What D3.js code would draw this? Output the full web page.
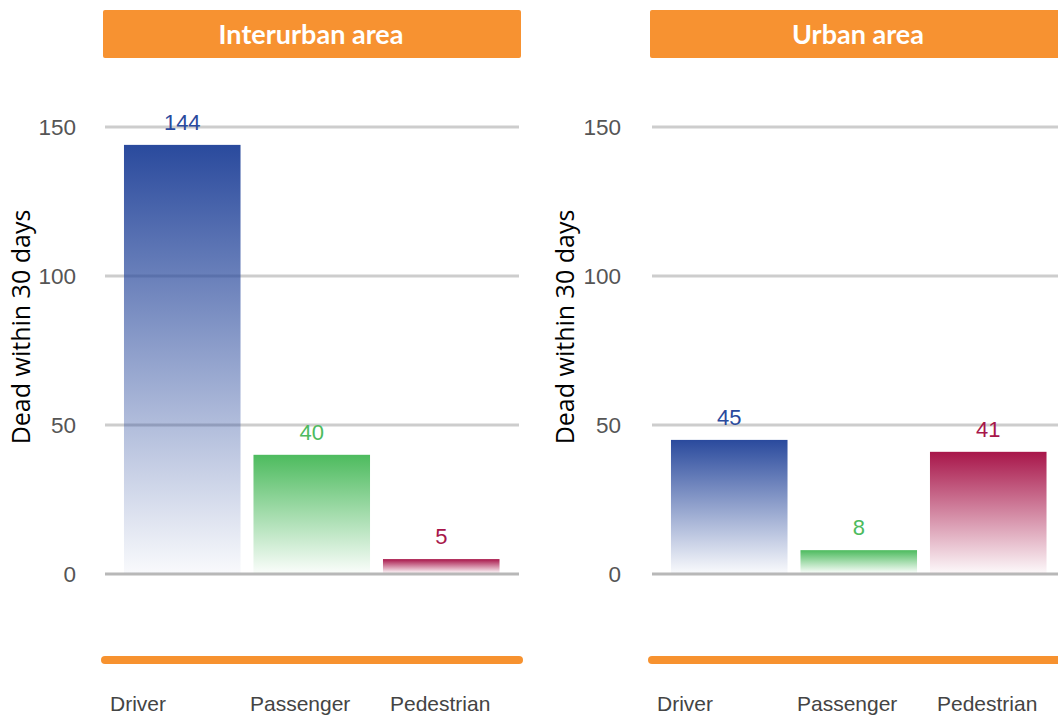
<!DOCTYPE html>
<html>
<head>
<meta charset="utf-8">
<script src="https://cdn.jsdelivr.net/npm/d3@7"></script>
<style>
  body { margin: 0; background: #fff; }
  svg { display: block; }
</style>
</head>
<body>
<svg width="1058" height="715"></svg>
<script>
// categorias y valores (muertos a 30 dias)
var categories = ["Driver", "Passenger", "Pedestrian"];
var interurban = [144, 40, 5];
var urban = [45, 8, 41];
var panelTitles = ["Interurban area", "Urban area"];
var yTicks = [0, 50, 100, 150];
var barColors = ["#2a4a9d", "#4dbb5e", "#a8164a"];

var svg = d3.select("svg");
var defs = svg.append("defs");

barColors.forEach(function(c, i) {
  var gr = defs.append("linearGradient")
    .attr("id", "grad" + i)
    .attr("x1", 0).attr("y1", 0).attr("x2", 0).attr("y2", 1);
  gr.append("stop").attr("offset", "0%").attr("stop-color", c);
  gr.append("stop").attr("offset", "100%").attr("stop-color", c).attr("stop-opacity", 0.03);
});

var y = d3.scaleLinear().domain([0, 150]).range([574, 127]);

function panel(x0, x1, title, values, axisX, titleX) {
  var g = svg.append("g");

  // cabecera naranja
  g.append("rect")
    .attr("x", x0).attr("y", 10)
    .attr("width", x1 - x0).attr("height", 48)
    .attr("rx", 2)
    .attr("fill", "#f79231");
  g.append("text")
    .attr("x", (x0 + x1) / 2 - 1)
    .attr("y", 44)
    .attr("text-anchor", "middle")
    .attr("font-family", "Lato, 'Open Sans', sans-serif")
    .attr("font-weight", "bold")
    .attr("font-size", 27)
    .attr("fill", "#fff")
    .text(title);

  // lineas de rejilla
  g.selectAll(".grid")
    .data(yTicks)
    .enter().append("line")
    .attr("x1", x0 + 2).attr("x2", x1 - 2)
    .attr("y1", function(d) { return y(d); })
    .attr("y2", function(d) { return y(d); })
    .attr("stroke", function(d) { return d === 0 ? "#b8b8b8" : "#cdcdcd"; })
    .attr("stroke-width", 3);

  g.selectAll(".tick")
    .data(yTicks)
    .enter().append("text")
    .attr("x", axisX)
    .attr("y", function(d) { return y(d); })
    .attr("dy", "0.35em")
    .attr("text-anchor", "end")
    .attr("font-family", "Liberation Sans, Arial, sans-serif")
    .attr("font-size", 22.5)
    .attr("fill", "#555")
    .text(function(d) { return d; });

  g.append("text")
    .attr("transform", "translate(" + titleX + ",327) rotate(-90)")
    .attr("text-anchor", "middle")
    .attr("font-family", "'Open Sans', sans-serif")
    .attr("font-size", 25)
    .attr("fill", "#000")
    .text("Dead within 30 days");

  var x = d3.scaleBand()
    .domain(categories)
    .range([x0 + 14.5, x0 + 403])
    .paddingInner(0.1)
    .paddingOuter(0.05);

  var rows = categories.map(function(c, i) { return { cat: c, value: values[i], i: i }; });

  g.selectAll(".bar")
    .data(rows)
    .enter().append("rect")
    .attr("x", function(d) { return x(d.cat); })
    .attr("y", function(d) { return y(d.value); })
    .attr("width", x.bandwidth())
    .attr("height", function(d) { return y(0) - y(d.value) - 1; })
    .attr("fill", function(d) { return "url(#grad" + d.i + ")"; });

  g.selectAll(".val")
    .data(rows)
    .enter().append("text")
    .attr("x", function(d) { return x(d.cat) + x.bandwidth() / 2; })
    .attr("y", function(d) { return y(d.value) - 23; })
    .attr("dy", "0.35em")
    .attr("text-anchor", "middle")
    .attr("font-family", "Liberation Sans, Arial, sans-serif")
    .attr("font-size", 22)
    .attr("fill", function(d) { return barColors[d.i]; })
    .text(function(d) { return d.value; });

  // linea naranja inferior
  g.append("line")
    .attr("x1", x0 + 2).attr("x2", x1 - 2)
    .attr("y1", 660).attr("y2", 660)
    .attr("stroke", "#f7922f")
    .attr("stroke-width", 8)
    .attr("stroke-linecap", "round");

  g.selectAll(".cat")
    .data(rows)
    .enter().append("text")
    .attr("x", function(d) { return x(d.cat) - 14 + d.i * 10.5; })
    .attr("y", 711)
    .attr("font-family", "Liberation Sans, Arial, sans-serif")
    .attr("font-size", 21)
    .attr("fill", "#444")
    .text(function(d) { return d.cat; });
}

panel(103, 521, panelTitles[0], interurban, 76, 30);
panel(650, 1068, panelTitles[1], urban, 621, 574);
</script>
</body>
</html>
